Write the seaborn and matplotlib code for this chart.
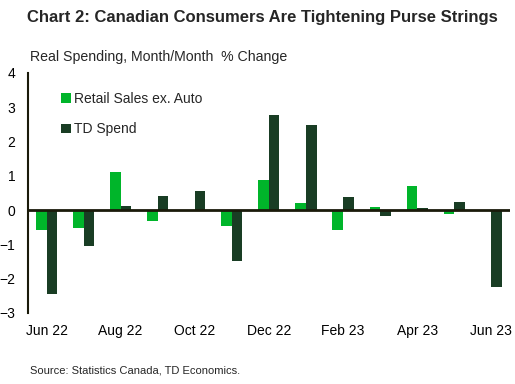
import pandas as pd
import numpy as np
import matplotlib.pyplot as plt
import seaborn as sns

# Monthly data, Jun 22 - Jun 23
months = ['Jun 22', 'Jul 22', 'Aug 22', 'Sep 22', 'Oct 22', 'Nov 22', 'Dec 22',
          'Jan 23', 'Feb 23', 'Mar 23', 'Apr 23', 'May 23', 'Jun 23']
retail = [-0.59, -0.52, 1.10, -0.32, 0.0, -0.47, 0.88, 0.22, -0.58, 0.08, 0.69, -0.12, np.nan]
td_spend = [-2.45, -1.05, 0.11, 0.40, 0.55, -1.49, 2.76, 2.47, 0.37, -0.17, 0.05, 0.25, -2.25]
tick_labels = ['Jun 22', '', 'Aug 22', '', 'Oct 22', '', 'Dec 22', '', 'Feb 23', '', 'Apr 23', '', 'Jun 23']

df = pd.DataFrame({
    'month': months * 2,
    'value': retail + td_spend,
    'series': ['Retail Sales ex. Auto'] * len(months) + ['TD Spend'] * len(months),
})

sns.set_style('white')
plt.rcParams['font.family'] = ['Liberation Sans', 'DejaVu Sans']

fig = plt.figure(figsize=(5.15, 3.84), dpi=100)
ax = fig.add_axes([0.0544, 0.185, 0.9356, 0.625])

sns.barplot(data=df, x='month', y='value', hue='series', order=months,
            palette=['#00B52A', '#193D24'], width=0.57, saturation=1,
            errorbar=None, linewidth=0, ax=ax)

ax.set_xlim(-0.5, 12.5)
ax.set_ylim(-3, 4)
ax.set_yticks(range(-3, 5))
ax.set_xticks(range(len(months)))
ax.set_xticklabels(tick_labels)
ax.set_xlabel('')
ax.set_ylabel('')
ax.axhline(0, color='#1a1a0a', lw=2, zorder=5)

for s in ['top', 'right', 'bottom']:
    ax.spines[s].set_visible(False)
ax.spines['left'].set_color('#1a1a0a')
ax.spines['left'].set_linewidth(1.5)
ax.tick_params(axis='both', length=0, labelsize=10, colors='black')
ax.tick_params(axis='y', pad=9)
ax.tick_params(axis='x', pad=8)

leg = ax.legend(loc='upper left', bbox_to_anchor=(0.057, 0.945), frameon=False,
                fontsize=10, handlelength=0.7, handleheight=0.7, handletextpad=0.25,
                labelspacing=1.2, borderaxespad=0)

fig.text(0.51, 0.955, 'Chart 2: Canadian Consumers Are Tightening Purse Strings',
         ha='center', va='center', fontsize=12, fontweight='bold')
fig.text(0.058, 0.851, 'Real Spending, Month/Month  % Change', ha='left', va='center',
         fontsize=10.2)
fig.text(0.058, 0.036, 'Source: Statistics Canada, TD Economics.', ha='left', va='center',
         fontsize=8)

fig.savefig('out.png', dpi=100)
